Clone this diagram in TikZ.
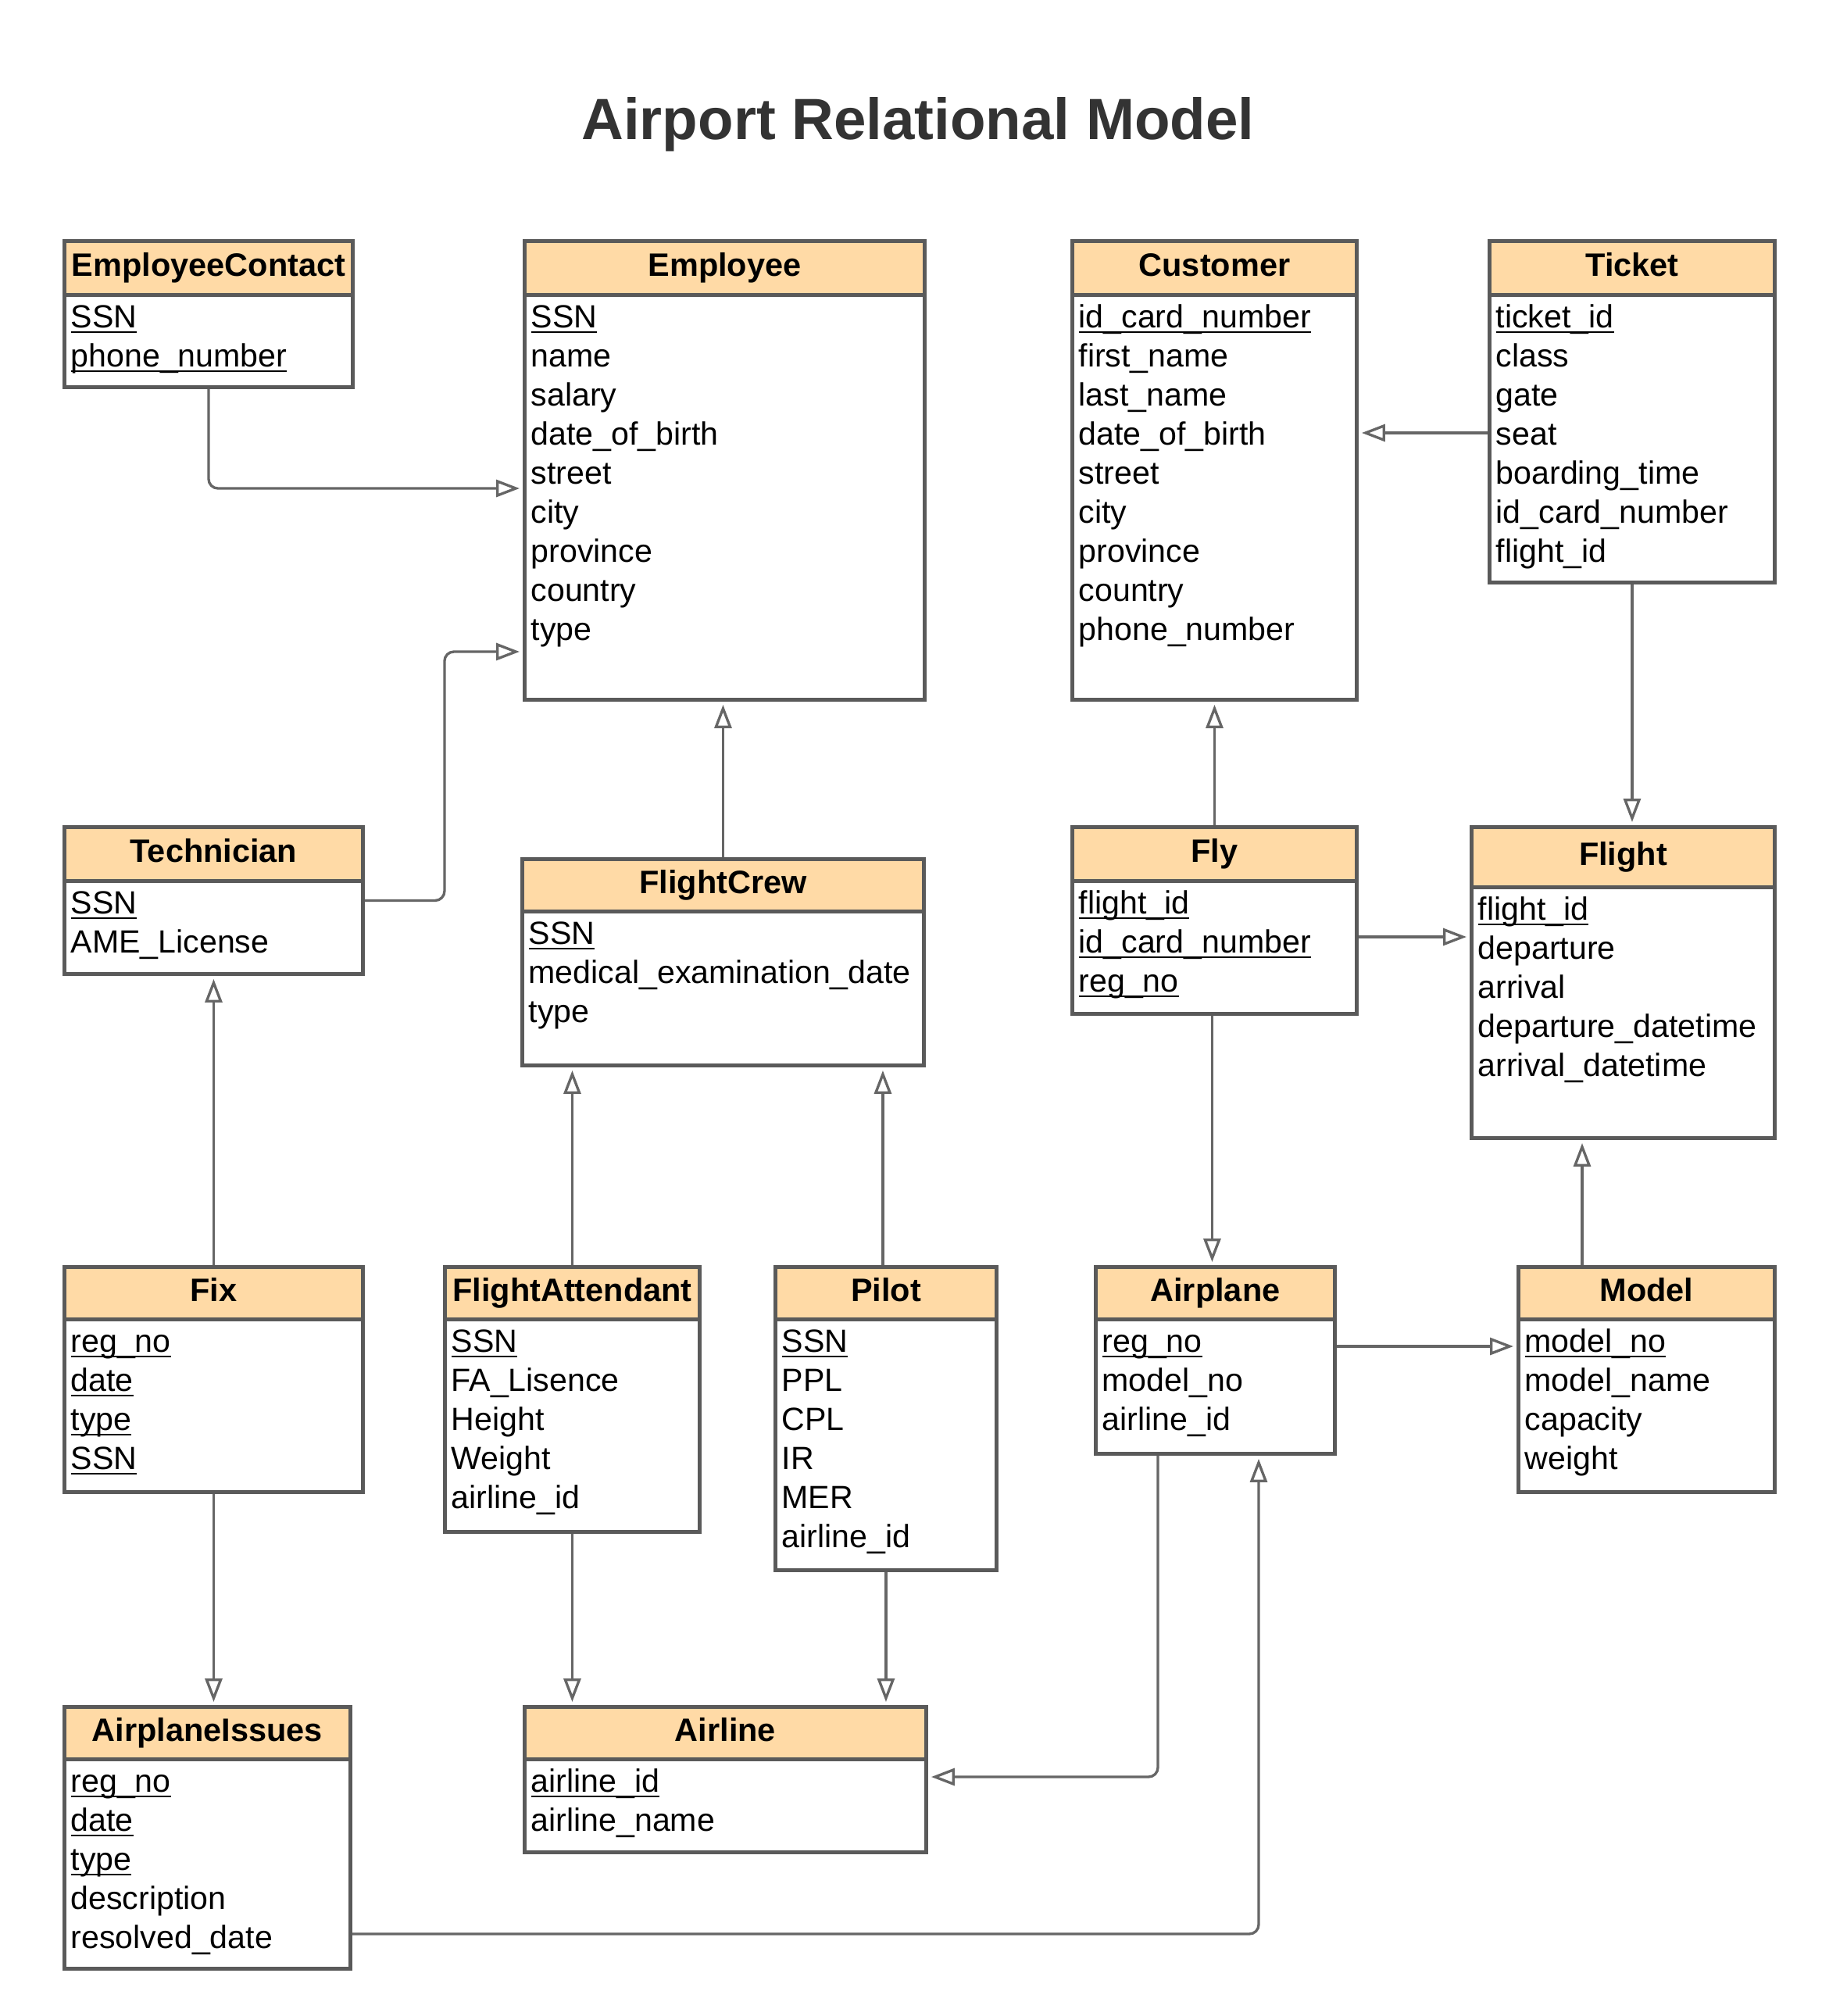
\documentclass[tikz,border=0pt]{standalone}
\usepackage{fontspec}
\setmainfont{Liberation Sans}
\usepackage{tikz}
\usetikzlibrary{positioning, arrows.meta, calc}
\definecolor{headfill}{RGB}{255,218,166}
\definecolor{boxline}{RGB}{90,90,90}
\definecolor{linkgray}{RGB}{102,102,102}
\definecolor{titlegray}{RGB}{51,51,51}

\tikzset{
  tablebody/.style={draw=boxline, fill=white, line width=1.4pt, inner sep=0pt},
  tablehead/.style={draw=boxline, fill=headfill, line width=1.4pt, inner sep=0pt,
    font=\fontsize{11.8pt}{14pt}\selectfont\bfseries, text height=8.6pt, text depth=2.5pt},
  rowtext/.style={inner sep=0pt, anchor=base west, font=\fontsize{11.7pt}{14pt}\selectfont},
  link/.style={draw=linkgray, line width=0.95pt, rounded corners=0.12cm,
    -{Triangle[open, length=0.3cm, width=0.22cm]}, shorten >=0.04cm}
}

\newsavebox\pkbox
\newcommand{\pkey}[1]{\sbox\pkbox{#1}\rlap{\rule[-1.6pt]{\wd\pkbox}{0.55pt}}\usebox\pkbox}

% name, x, y, width, height, header height, title, rows
\newcommand{\erdtable}[8]{%
  \node[tablebody, anchor=north west, minimum width=#4cm, minimum height=#5cm] (#1) at (#2,#3) {};
  \node[tablehead, anchor=north west, minimum width=#4cm, minimum height=#6cm] (#1-h) at (#2,#3) {#7};
  \foreach \row [count=\i from 0] in {#8}
    \node[rowtext] (#1-\i) at ($(#1-h.south west)+(0.1,-0.40-0.5*\i)$) {\row};
}

\begin{document}
\begin{tikzpicture}
\useasboundingbox[fill=white] (0.02,-0.02) rectangle (23.65,-25.82);

% title
\node[text=titlegray, font=\fontsize{21.2pt}{24pt}\selectfont\bfseries] (title) at (11.77,-1.61) {Airport Relational Model};

% top row
\erdtable{ec}{0.82}{-3.08}{3.69}{1.87}{0.69}{EmployeeContact}{\pkey{SSN}, \pkey{phone\_number}}
\erdtable{emp}{6.71}{-3.08}{5.12}{5.87}{0.69}{Employee}{\pkey{SSN}, name, salary, date\_of\_birth, street, city, province, country, type}
\erdtable{cust}{13.72}{-3.08}{3.64}{5.87}{0.69}{Customer}{\pkey{id\_card\_number}, first\_name, last\_name, date\_of\_birth, street, city, province, country, phone\_number}
\erdtable{tick}{19.06}{-3.08}{3.65}{4.37}{0.69}{Ticket}{\pkey{ticket\_id}, class, gate, seat, boarding\_time, id\_card\_number, flight\_id}

% second row
\erdtable{tech}{0.82}{-10.58}{3.82}{1.88}{0.69}{Technician}{\pkey{SSN}, AME\_License}
\erdtable{crew}{6.68}{-10.99}{5.14}{2.64}{0.67}{FlightCrew}{\pkey{SSN}, medical\_examination\_date, type}
\erdtable{fly}{13.72}{-10.58}{3.64}{2.39}{0.69}{Fly}{\pkey{flight\_id}, \pkey{id\_card\_number}, \pkey{reg\_no}}
\erdtable{flight}{18.83}{-10.58}{3.88}{3.98}{0.77}{Flight}{\pkey{flight\_id}, departure, arrival, departure\_datetime, arrival\_datetime}

% third row
\erdtable{fix}{0.82}{-16.21}{3.82}{2.88}{0.67}{Fix}{\pkey{reg\_no}, \pkey{date}, \pkey{type}, \pkey{SSN}}
\erdtable{fa}{5.69}{-16.21}{3.26}{3.39}{0.67}{FlightAttendant}{\pkey{SSN}, FA\_Lisence, Height, Weight, airline\_id}
\erdtable{pilot}{9.92}{-16.21}{2.83}{3.88}{0.67}{Pilot}{\pkey{SSN}, PPL, CPL, IR, MER, airline\_id}
\erdtable{plane}{14.02}{-16.21}{3.06}{2.39}{0.67}{Airplane}{\pkey{reg\_no}, model\_no, airline\_id}
\erdtable{model}{19.43}{-16.21}{3.28}{2.88}{0.67}{Model}{\pkey{model\_no}, model\_name, capacity, weight}

% bottom row
\erdtable{issue}{0.82}{-21.84}{3.66}{3.35}{0.67}{AirplaneIssues}{\pkey{reg\_no}, \pkey{date}, \pkey{type}, description, resolved\_date}
\erdtable{airline}{6.71}{-21.84}{5.14}{1.86}{0.67}{Airline}{\pkey{airline\_id}, airline\_name}

% connectors
\draw[link] (ec.south) |- ($(emp.north west)+(0,-3.19)$);
\draw[link] (tech.east) -- ++(1.02,0) |- ($(emp.north west)+(0,-5.28)$);
\draw[link] (crew.north) -- (crew.north |- emp.south);
\draw[link] ($(tick.north west)+(0,-2.48)$) coordinate (t1) -- (t1 -| cust.east);
\draw[link] (tick.south) -- (tick.south |- flight.north);
\draw[link] (fly.north) -- (fly.north |- cust.south);
\draw[link] ($(fly.north east)+(0,-1.43)$) coordinate (f1) -- (f1 -| flight.west);
\draw[link] ($(fly.south)+(-0.03,0)$) coordinate (f2) -- (f2 |- plane.north);
\draw[link] ($(model.north west)+(0.84,0)$) coordinate (m1) -- (m1 |- flight.south);
\draw[link] ($(plane.north east)+(0,-1.04)$) coordinate (p1) -- (p1 -| model.west);
\draw[link] (fix.north) -- (fix.north |- tech.south);
\draw[link] (fix.south) -- (fix.south |- issue.north);
\draw[link] (fa.north) -- (fa.north |- crew.south);
\draw[link] ($(pilot.north)+(-0.04,0)$) coordinate (p2) -- (p2 |- crew.south);
\draw[link] (fa.south) -- (fa.south |- airline.north);
\draw[link] (pilot.south) -- (pilot.south |- airline.north);
\draw[link] ($(plane.south west)+(0.82,0)$) |- ($(airline.north east)+(0,-0.92)$);
\draw[link] ($(issue.north east)+(0,-2.93)$) -| ($(plane.south west)+(2.11,0)$);
\end{tikzpicture}
\end{document}
